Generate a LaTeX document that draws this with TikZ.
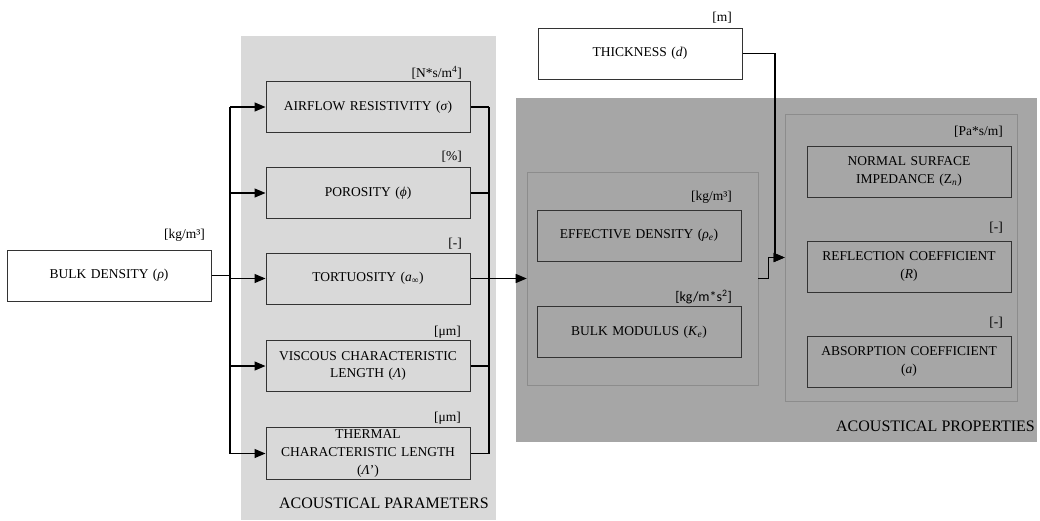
\documentclass[tikz,border=0pt]{standalone}
\usepackage{fontspec}
\setmainfont{Liberation Serif}
\newfontfamily\unitsans{Carlito}
\usetikzlibrary{arrows.meta}
\definecolor{panelA}{HTML}{D9D9D9}
\definecolor{panelB}{HTML}{A6A6A6}
\definecolor{edge}{HTML}{333333}
\definecolor{groupedge}{HTML}{8C8C8C}
\begin{document}
\begin{tikzpicture}[x=1pt,y=-1pt,
  box/.style={draw=edge, line width=1pt, minimum width=204pt, minimum height=51pt,
    inner sep=2pt, align=center, text width=200pt,
    font=\fontsize{13.5}{17.8}\selectfont},
  group/.style={draw=groupedge, line width=0.6pt, inner sep=0pt},
  unit/.style={anchor=east, inner sep=0pt, font=\fontsize{13.5}{15}\selectfont},
  link/.style={line width=1.3pt},
  arr/.style={link, -{Triangle[length=11pt,width=9pt]}},
  title/.style={anchor=base east, inner sep=0pt, font=\fontsize{16}{18}\selectfont}]
\useasboundingbox (0,0) rectangle (1040,520);

% background panels
\fill[panelA] (241,36) rectangle (496,520);
\fill[panelB] (516,98) rectangle (1037,442);

% group frames inside the properties panel
\node[group, minimum width=231pt, minimum height=213pt] (mid) at (642.5,278.5) {};
\node[group, minimum width=232pt, minimum height=287pt] (out) at (901,257.5) {};

% input
\node[box, fill=white] (bulk) at (109,275.5) {BULK DENSITY (\textit{ρ})};
\node[unit] (ubulk) at (205,235) {[kg/m³]};

% acoustical parameters
\node[box, fill=panelA] (air) at (368,107) {AIRFLOW RESISTIVITY (\textit{σ})};
\node[unit] (uair) at (462,73) {[N*s/m\textsuperscript{4}]};
\node[box, fill=panelA] (por) at (368,193) {POROSITY (\textit{ϕ})};
\node[unit] (upor) at (462,157) {[\%]};
\node[box, fill=panelA] (tor) at (368,278.5) {TORTUOSITY (\textit{a}\textsubscript{∞})};
\node[unit] (utor) at (462,244) {[-]};
\node[box, fill=panelA] (vis) at (368,366) {VISCOUS CHARACTERISTIC\\LENGTH (\textit{Λ})};
\node[unit] (uvis) at (461,332) {[μm]};
\node[box, fill=panelA] (the) at (368,453.5) {THERMAL\\CHARACTERISTIC LENGTH\\(\textit{Λ}’)};
\node[unit] (uthe) at (461,418) {[μm]};
\node[title] (tpar) at (489,508.5) {ACOUSTICAL PARAMETERS};

% thickness
\node[box, fill=white] (thick) at (640,53.5) {THICKNESS (\textit{d})};
\node[unit] (uthick) at (732,18) {[m]};

% material properties
\node[box, fill=panelB] (eff) at (639,235.5) {EFFECTIVE DENSITY (\textit{ρ}\textsubscript{\textit{e}})};
\node[unit] (ueff) at (732,197) {[kg/m³]};
\node[box, fill=panelB] (bmod) at (639,332) {BULK MODULUS (\textit{K}\textsubscript{\textit{e}})};
\node[unit, font=\unitsans\fontsize{14}{15}\selectfont] (ubmod) at (732,297) {[kg/m*s\textsuperscript{2}]};

% acoustical properties
\node[box, fill=panelB] (nsi) at (909,171.5) {NORMAL SURFACE\\IMPEDANCE (Z\textsubscript{\textit{n}})};
\node[unit] (unsi) at (1003,132) {[Pa*s/m]};
\node[box, fill=panelB] (ref) at (909,266.5) {REFLECTION COEFFICIENT\\(\textit{R})};
\node[unit] (uref) at (1003,228) {[-]};
\node[box, fill=panelB] (abs) at (909,361.5) {ABSORPTION COEFFICIENT\\(\textit{a})};
\node[unit] (uabs) at (1003,323) {[-]};
\node[title] (tprop) at (1035,431.5) {ACOUSTICAL PROPERTIES};

% distribution from bulk density
\coordinate (lt) at (230,107);
\coordinate (lb) at (230,453.5);
\draw[link] (bulk.east) -- (bulk.east -| lt);
\draw[link] (lt) -- (lb);
\draw[arr] (lt) -- (air.west);
\draw[arr] (lt |- por.west) -- (por.west);
\draw[arr] (lt |- tor.west) -- (tor.west);
\draw[arr] (lt |- vis.west) -- (vis.west);
\draw[arr] (lb) -- (the.west);

% collection into the material model
\coordinate (rt) at (489,107);
\coordinate (rb) at (489,453.5);
\draw[link] (air.east) -- (rt);
\draw[link] (por.east) -- (por.east -| rt);
\draw[link] (tor.east) -- (tor.east -| rt);
\draw[link] (vis.east) -- (vis.east -| rt);
\draw[link] (the.east) -- (rb);
\draw[link] (rt) -- (rb);
\draw[arr] (rt |- mid.west) -- (mid.west);

% thickness and material model into the acoustical properties
\coordinate (jn) at (775,257.5);
\draw[arr] (thick.east) -| (jn) -- (out.west);
\draw[arr] (mid.east) -- ++(10,0) |- (out.west);
\end{tikzpicture}
\end{document}
